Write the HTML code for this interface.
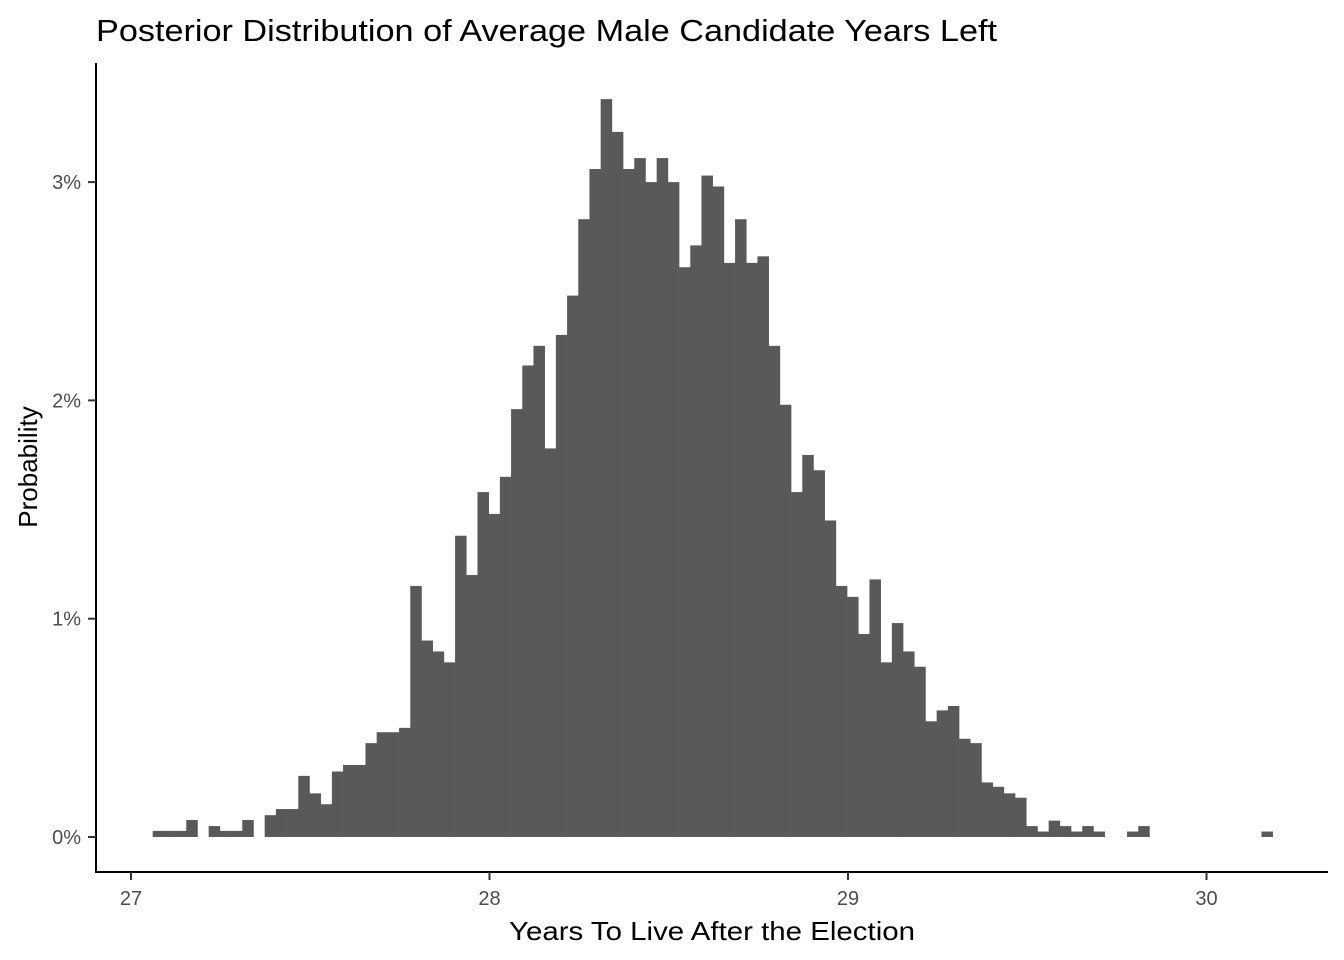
<!DOCTYPE html>
<html><head><meta charset="utf-8"><style>
html,body{margin:0;padding:0;background:#fff;}
svg{display:block;font-family:"Liberation Sans",Arial,sans-serif;}
</style></head><body>
<svg id="chart" width="1344" height="960">
<text x="96" y="41" font-size="31" fill="#000" textLength="901" lengthAdjust="spacingAndGlyphs">Posterior Distribution of Average Male Candidate Years Left</text>
<text x="712" y="940" font-size="26" fill="#000" text-anchor="middle" textLength="406" lengthAdjust="spacingAndGlyphs">Years To Live After the Election</text>
<text transform="translate(37,467) rotate(-90)" font-size="26" fill="#000" text-anchor="middle">Probability</text>
<g id="bars"></g>
<g id="axes"></g>
</svg>
<script>
const binStart = 27.0605;
const binWidth = 0.03124;
const binValues = [0.028,0.028,0.028,0.078,0,0.05,0.028,0.028,0.078,0,
0.10,0.128,0.128,0.28,0.20,0.15,0.30,0.33,0.33,0.43,
0.48,0.48,0.50,1.15,0.90,0.85,0.80,1.38,1.20,1.58,
1.48,1.65,1.96,2.16,2.25,1.78,2.30,2.48,2.83,3.06,
3.38,3.23,3.06,3.11,3.00,3.11,3.00,2.61,2.71,3.03,
2.98,2.63,2.83,2.63,2.66,2.25,1.98,1.58,1.75,1.68,
1.45,1.15,1.10,0.93,1.18,0.80,0.98,0.85,0.78,0.53,
0.58,0.60,0.45,0.43,0.25,0.23,0.20,0.18,0.05,0.025,
0.075,0.05,0.025,0.05,0.025,0,0,0.025,0.05,0,
0,0,0,0,0,0,0,0,0,0.025];
const xTicks = [27,28,29,30];
const xTickLabels = ["27","28","29","30"];
const yTicks = [0,1,2,3];
const yTickLabels = ["0%","1%","2%","3%"];

const NS = "http://www.w3.org/2000/svg";
function xScale(v){ return 131 + (v-27)*358.5; }
function yScale(p){ return 837 - p*218.3; }
function mk(tag, attrs, parent){
  const e = document.createElementNS(NS, tag);
  for (const k in attrs) e.setAttribute(k, attrs[k]);
  parent.appendChild(e); return e;
}
const bars = document.getElementById('bars');
binValues.forEach((v,i)=>{
  if (v<=0) return;
  const x0 = xScale(binStart + i*binWidth), x1 = xScale(binStart + (i+1)*binWidth);
  const r = mk('rect',{x:x0,y:yScale(v),width:x1-x0+0.3,height:yScale(0)-yScale(v),fill:'#595959'},bars);
  
  
});
const axes = document.getElementById('axes');
const xl = mk('line',{x1:96,y1:872,x2:1328,y2:872,stroke:'#000','stroke-width':2},axes);


const yl = mk('line',{x1:96,y1:63,x2:96,y2:873,stroke:'#000','stroke-width':2},axes);


xTicks.forEach((t,i)=>{
  const x = xScale(t);
  const tk = mk('line',{x1:x,y1:872,x2:x,y2:880,stroke:'#333','stroke-width':2},axes);
  
  
  const lb = mk('text',{x:x,y:905,'font-size':20,fill:'#4d4d4d','text-anchor':'middle'},axes);
  lb.textContent = xTickLabels[i];
  
  
});
yTicks.forEach((t,i)=>{
  const y = yScale(t);
  const tk = mk('line',{x1:88,y1:y,x2:96,y2:y,stroke:'#333','stroke-width':2},axes);
  
  
  const lb = mk('text',{x:81,y:y+7,'font-size':20,fill:'#4d4d4d','text-anchor':'end'},axes);
  lb.textContent = yTickLabels[i];
  
  
});
</script>
</body></html>
